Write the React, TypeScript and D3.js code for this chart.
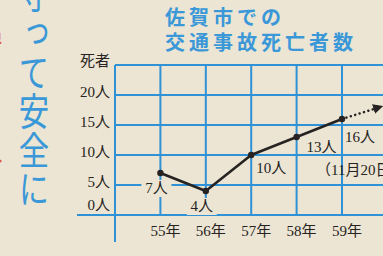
import * as d3 from "d3";

const years = ["55年", "56年", "57年", "58年", "59年"];
const deaths = [7, 4, 10, 13, 16];
const deathLabels = ["7人", "4人", "10人", "13人", "16人"];
const yTicks = [0, 5, 10, 15, 20];
const yTickLabels = ["0人", "5人", "10人", "15人", "20人"];
const titleLines = ["佐賀市での", "交通事故死亡者数"];
const slogan = "守って安全に";
const sideSlogan = "を守ろうね";
const noteText = "（11月20日現在）";

const W = 383;
const H = 256;
const paper = "#ece5d3";
const blue = "#2f91d6";
const ink = "#262322";
const serif = "'Liberation Serif', 'DejaVu Serif', 'Noto Sans CJK JP', serif";
const sans = "'Noto Sans CJK JP', sans-serif";

export default function App() {
  const x = d3.scaleLinear().domain([-1, 4]).range([115, 342]);
  const y = d3.scaleLinear().domain([0, 25]).range([215, 65]);

  const line = d3
    .line<number>()
    .x((_, i) => x(i))
    .y(d => y(d));

  // label offsets from each point (px)
  const labelOff = [
    [-4, 20],
    [-4, 20],
    [20, 18],
    [25, 15],
    [18, 23],
  ];

  const last = deaths.length - 1;
  const trendEnd = { i: 4.8, v: 17.9 };

  return (
    <svg
      width={W}
      height={H}
      style={{ position: "absolute", left: 0, top: 0, background: paper }}
    >
      <defs>
        <marker
          id="arr"
          viewBox="0 0 10 10"
          refX="5"
          refY="5"
          markerWidth="4"
          markerHeight="4"
          orient="auto"
        >
          <path d="M0,0 L10,5 L0,10 z" fill={ink} />
        </marker>
      </defs>
      <rect width={W} height={H} fill={paper} />

      {/* side slogans */}
      <text
        x={-13}
        y={-8}
        fill="#de5a2c"
        fontFamily={sans}
        fontSize={32}
        style={{ writingMode: "vertical-rl" }}
        letterSpacing={4}
      >
        {sideSlogan}
      </text>
      <g transform="translate(34,0) scale(0.8,1)">
        <text
          x={0}
          y={-25}
          fill="#3a98d8"
          fontFamily={sans}
          fontSize={38}
          letterSpacing={1}
          style={{ writingMode: "vertical-rl" }}
        >
          {slogan}
        </text>
      </g>

      {/* title */}
      {titleLines.map((t, i) => (
        <text
          key={t}
          x={165}
          y={25 + i * 25}
          fill="#3a98d8"
          fontFamily={sans}
          fontWeight={700}
          fontSize={20}
          letterSpacing={4}
        >
          {t}
        </text>
      ))}

      {/* grid */}
      <g stroke={blue} strokeWidth={2}>
        {[5, 10, 15, 20, 25].map(v => (
          <line key={"h" + v} x1={x(-1)} x2={W} y1={y(v)} y2={y(v)} />
        ))}
        {d3.range(0, 6).map(i => (
          <line key={"v" + i} x1={x(i)} x2={x(i)} y1={y(25)} y2={y(0)} />
        ))}
        <line x1={77} x2={W} y1={y(0)} y2={y(0)} />
        <line x1={x(-1)} x2={x(-1)} y1={y(25)} y2={242} />
      </g>

      {/* y labels */}
      <g fontFamily={serif} fontSize={15} fill={ink} textAnchor="end">
        <text x={110} y={66}>死者</text>
        {yTicks.map((v, i) => (
          <text key={v} x={110} y={(v === 0 ? y(0) - 10 : y(v) - 3) + 5}>
            {yTickLabels[i]}
          </text>
        ))}
      </g>

      {/* x labels */}
      <g fontFamily={serif} fontSize={15} fill={ink} textAnchor="middle">
        {years.map((t, i) => (
          <text key={t} x={x(i) + 5} y={236}>
            {t}
          </text>
        ))}
      </g>

      {/* data labels */}
      <g fontFamily={serif} fontSize={15} fill={ink} textAnchor="middle">
        {deaths.map((d, i) => (
          <g key={i}>
            {i < 2 && (
              <rect
                x={x(i) + labelOff[i][0] - 15}
                y={y(d) + labelOff[i][1] - 13}
                width={30}
                height={17}
                fill={paper}
              />
            )}
            <text x={x(i) + labelOff[i][0]} y={y(d) + labelOff[i][1]}>
              {deathLabels[i]}
            </text>
          </g>
        ))}
        <text x={x(last) - 26} y={y(deaths[last]) + 56} textAnchor="start">
          {noteText}
        </text>
      </g>

      {/* trend */}
      <path
        d={line(deaths) || ""}
        fill="none"
        stroke={ink}
        strokeWidth={2.6}
        strokeLinejoin="round"
      />
      <line
        x1={x(last)}
        y1={y(deaths[last])}
        x2={x(trendEnd.i)}
        y2={y(trendEnd.v)}
        stroke={ink}
        strokeWidth={2.5}
        strokeDasharray="0.1,4.5"
        strokeLinecap="round"
        markerEnd="url(#arr)"
      />
      {deaths.map((d, i) => (
        <circle key={i} cx={x(i)} cy={y(d)} r={3.2} fill={ink} />
      ))}
    </svg>
  );
}
